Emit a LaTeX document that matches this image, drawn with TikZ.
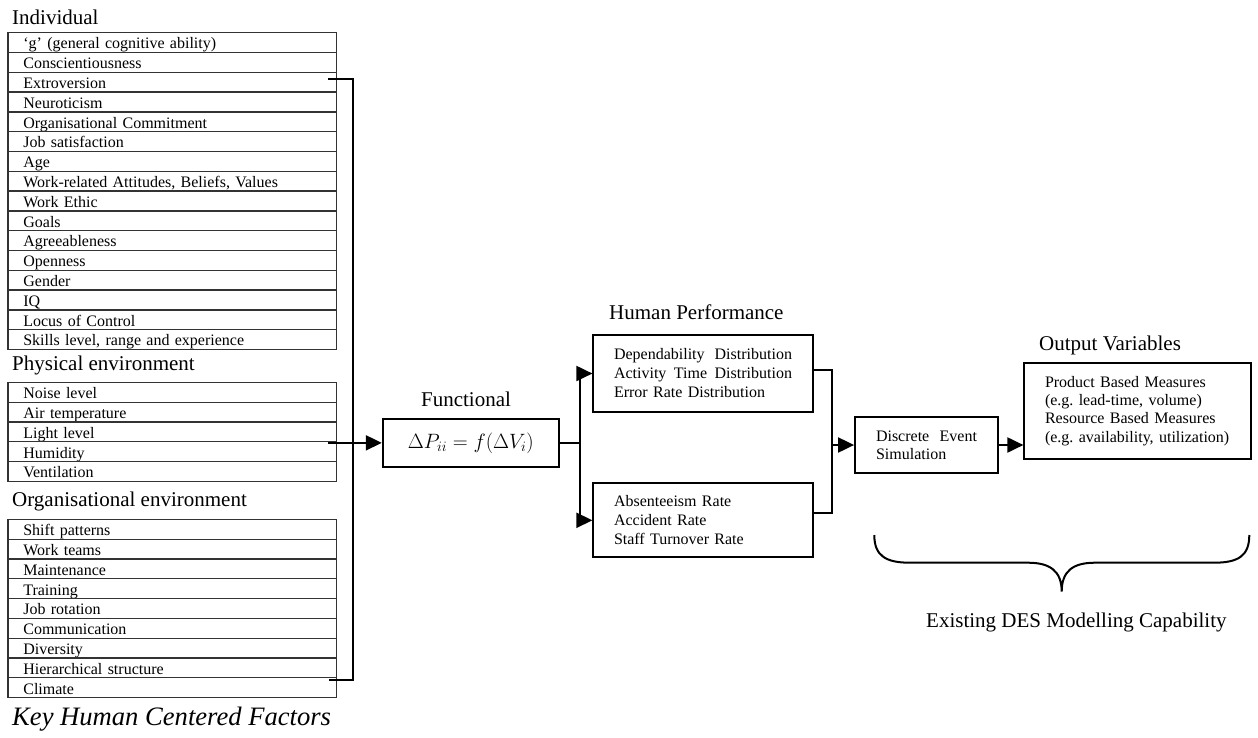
\documentclass[tikz,border=0pt]{standalone}
\usepackage{fontspec}
\setmainfont{Liberation Serif}
\usetikzlibrary{arrows.meta,calc}
\frenchspacing

\begin{document}
\begin{tikzpicture}[x=1pt,y=-1pt,
  cell/.style={draw=black!80, line width=1.3pt, anchor=north west,
    inner xsep=15.4pt, inner ysep=0pt, text width=297.6pt, align=left,
    minimum height=19.8pt, text height=14pt, text depth=1.2pt,
    font=\fontsize{16}{19}\selectfont},
  box/.style={draw, line width=1.8pt, inner xsep=20.7pt, inner ysep=0pt,
    align=left, font=\fontsize{16}{19}\selectfont},
  head/.style={inner sep=0pt, font=\fontsize{21}{25}\selectfont},
  conn/.style={draw, line width=2pt},
  arr/.style={-{Triangle[length=16pt,width=15pt]}}
]
\useasboundingbox (0,0) rectangle (1258,737);

% factor tables
\foreach [count=\i from 0] \t in {‘g’ (general cognitive ability), Conscientiousness,
  Extroversion, Neuroticism, Organisational Commitment, Job satisfaction, Age,
  {Work-related Attitudes, Beliefs, Values}, Work Ethic, Goals, Agreeableness,
  Openness, Gender, IQ, Locus of Control, {Skills level, range and experience}}
  \node[cell] (ind\i) at (7.3, 32+19.8*\i) {\t};

\foreach [count=\i from 0] \t in {Noise level, Air temperature, Light level,
  Humidity, Ventilation}
  \node[cell] (phy\i) at (7.3, 381.7+19.8*\i) {\t};

\foreach [count=\i from 0] \t in {Shift patterns, Work teams, Maintenance,
  Training, Job rotation, Communication, Diversity, Hierarchical structure, Climate}
  \node[cell] (org\i) at (7.3, 518.7+19.8*\i) {\t};

% headings
\node[head, anchor=base west] (lblInd) at (12,24) {Individual};
\node[head, anchor=base west] (lblPhy) at (12,370.7) {Physical environment};
\node[head, anchor=base west] (lblOrg) at (12,506.7) {Organisational environment};
\node[inner sep=0pt, anchor=base west, font=\itshape\fontsize{26.6}{30}\selectfont]
  (lblKey) at (12,725) {Key Human Centered Factors};
\node[head, anchor=base] (lblFun) at (466,406) {Functional};
\node[head, anchor=base west] (lblHP) at (609,319.3) {Human Performance};
\node[head, anchor=base west] (lblOut) at (1039,350) {Output Variables};
\node[head, anchor=base west] (lblDes) at (926,627.3) {Existing DES Modelling Capability};

% process boxes
\node[box, minimum width=176.3pt, minimum height=47.7pt, inner xsep=0pt, align=center,
  font=\fontsize{21}{25}\selectfont] (func) at (470.85,442.85)
  {$\Delta P_{ii} = f\bigl(\Delta V_i\bigr)$};
\node[box, text width=178.6pt, minimum height=77pt] (hp1) at (703.3,373.5)
  {\leavevmode\hbox to 178pt{Dependability\hfill Distribution}\\
   \leavevmode\hbox to 178pt{Activity\hfill Time\hfill Distribution}\\
   Error Rate Distribution};
\node[box, text width=178.6pt, minimum height=74pt] (hp2) at (703.3,520.3)
  {Absenteeism Rate\\Accident Rate\\Staff Turnover Rate};
\node[box, inner xsep=21pt, text width=101.3pt, minimum height=56.7pt,
  font=\fontsize{16}{18.3}\selectfont] (des) at (926.65,445)
  {\leavevmode\hbox to 101pt{Discrete\hfill Event}\\Simulation};
\node[box, text width=185pt, minimum height=96.3pt,
  font=\fontsize{16}{18.3}\selectfont] (out) at (1137.5,410.85)
  {Product Based Measures\\(e.g. lead-time, volume)\\Resource Based Measures\\(e.g. availability, utilization)};

% rail collecting the individual and organisational factors
\coordinate (extR) at ($(ind2.east)+(-9,-3.2)$);
\coordinate (railTop) at ($(ind2.east)+(16,-3.2)$);
\coordinate (railBot) at ($(org7.south east)+(16,1.4)$);
\coordinate (hierR) at ($(org7.south east)+(-8,1.4)$);
\draw[conn] (extR) -- (railTop) -- (railBot) -- (hierR);

% factors into the functional relation
\coordinate (humR) at ($(func.west -| phy3.east)+(-9,0)$);
\draw[conn,arr] (humR) -- (func.west);

% functional relation to human performance
\coordinate (fork) at ($(func.east)+(20,0)$);
\draw[conn] (func.east) -- (fork);
\draw[conn,arr] (fork) |- (hp1.west);
\draw[conn,arr] (fork) |- (hp2.west);

% human performance into simulation
\coordinate (hp1R) at ($(hp1.east)+(0,-4)$);
\coordinate (hp2R) at ($(hp2.east)+(0,-7)$);
\coordinate (rail2) at ($(hp2.east)+(18,-7)$);
\draw[conn] (hp1R) -| (rail2) -- (hp2R);
\draw[conn,arr] (des.west -| rail2) -- (des.west);

% simulation to output variables
\draw[conn,arr] (des.east) -- (des.east -| out.west);

% brace over the existing DES capability
\draw[line width=2pt]
  (874.3,535) .. controls (874.3,556) and (886,562.7) .. (910,562.7)
  -- (1028,562.7) .. controls (1050,562.7) and (1061.7,571) .. (1061.7,591.7)
  .. controls (1061.7,571) and (1073,562.7) .. (1095,562.7)
  -- (1214,562.7) .. controls (1238,562.7) and (1249.3,556) .. (1249.3,535);
\end{tikzpicture}
\end{document}
